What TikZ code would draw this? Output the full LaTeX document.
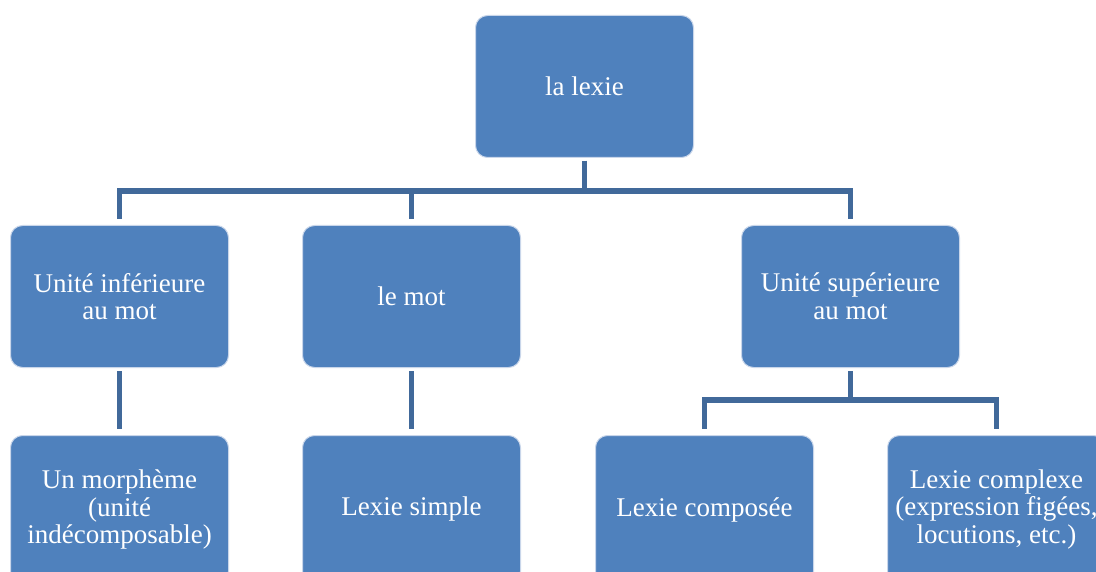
\documentclass[tikz,border=0pt]{standalone}
\usepackage{fontspec}
\setmainfont{Liberation Serif}
\usetikzlibrary{positioning}
\definecolor{boxblue}{HTML}{4F81BD}
\definecolor{linkblue}{HTML}{41699A}
\definecolor{rimblue}{HTML}{C9D6EA}

\begin{document}
\begin{tikzpicture}[x=1pt, y=-1pt,
  box/.style={fill=boxblue, draw=rimblue, line width=1pt, rounded corners=12pt,
    minimum width=218pt, minimum height=142pt, align=center, text=white,
    font=\fontsize{27}{27.7}\selectfont, inner sep=0pt},
  low/.style={minimum height=148pt},
  link/.style={draw=linkblue, line width=5.5pt, shorten <=3pt, shorten >=6pt}]
\clip (0,0) rectangle (1096,572);
\node[box] (lexie) at (584.5,86.5) {la lexie};
\node[box] (inf) at (119.5,296.5) {Unité inférieure\\au mot};
\node[box] (mot) at (411.5,296.5) {le mot};
\node[box] (sup) at (850.5,296.5) {Unité supérieure\\au mot};
\node[box, low] (morph) at (119.5,509.5) {Un morphème\\(unité\\indécomposable)};
\node[box, low] (simple) at (411.5,509.5) {Lexie simple};
\node[box, low] (comp) at (704.5,509.5) {Lexie composée};
\node[box, low] (cplx) at (996.5,509.5) {Lexie complexe\\(expression figées,\\locutions, etc.)};
% first level
\draw[link] (lexie.south) -- ++(0,33) -| (inf.north);
\draw[link] (lexie.south) -- ++(0,33) -| (mot.north);
\draw[link] (lexie.south) -- ++(0,33) -| (sup.north);
% second level
\draw[link] (inf.south) -- (morph.north);
\draw[link] (mot.south) -- (simple.north);
\draw[link] (sup.south) -- ++(0,32) -| (comp.north);
\draw[link] (sup.south) -- ++(0,32) -| (cplx.north);
\end{tikzpicture}
\end{document}
